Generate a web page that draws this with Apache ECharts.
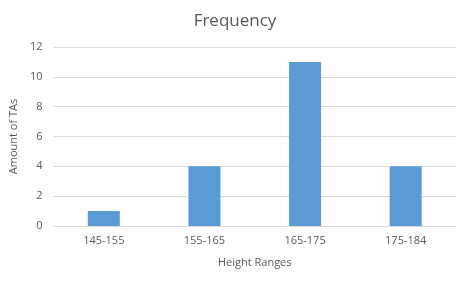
<!DOCTYPE html>
<html><head><meta charset="utf-8">
<script src="https://cdn.jsdelivr.net/npm/echarts@6/dist/echarts.min.js"></script>
<style>html,body{margin:0;padding:0;background:#fff}#c{width:476px;height:285px}</style>
</head><body><div id="c"></div>
<script>
const categories = ['145-155', '155-165', '165-175', '175-184'];
const counts = [1, 4, 11, 4];
const yTicks = [0, 2, 4, 6, 8, 10, 12];

const chart = echarts.init(document.getElementById('c'), null, {renderer: 'canvas'});
const font = '"Open Sans", "Noto Sans", sans-serif';
chart.setOption({
  animation: false,
  backgroundColor: '#fff',
  title: {text: 'Frequency', left: 230, top: 8, textAlign: 'center',
    textStyle: {fontFamily: font, fontSize: 17, fontWeight: 'normal', color: '#595959'}},
  grid: {left: 50, right: 20, top: 47, bottom: 59},
  xAxis: {type: 'category', data: categories,
    name: 'Height Ranges', nameLocation: 'middle', nameGap: 31,
    nameTextStyle: {fontFamily: font, fontSize: 11, color: '#595959'},
    axisLine: {lineStyle: {color: '#d9d9d9'}}, axisTick: {show: false},
    axisLabel: {fontFamily: font, fontSize: 11, color: '#595959', margin: 9}},
  yAxis: {type: 'value', min: yTicks[0], max: yTicks[yTicks.length-1], interval: 2,
    name: 'Amount of TAs', nameLocation: 'middle', nameGap: 25, nameRotate: 90,
    nameTextStyle: {fontFamily: font, fontSize: 11, color: '#595959'},
    axisLine: {show: false}, axisTick: {show: false},
    axisLabel: {fontFamily: font, fontSize: 11, color: '#595959', margin: 11},
    splitLine: {lineStyle: {color: '#d9d9d9'}}},
  series: [{type: 'bar', data: counts, barWidth: 32, itemStyle: {color: '#5b9bd5'}}]
});
</script></body></html>
